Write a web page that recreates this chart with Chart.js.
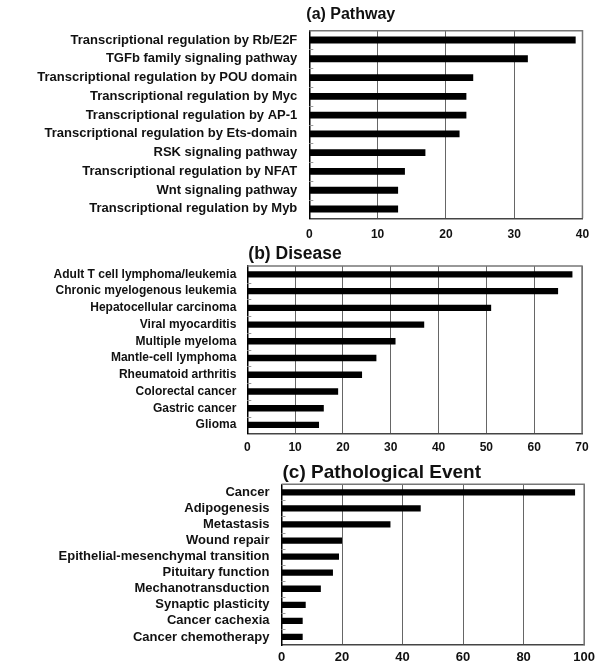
<!DOCTYPE html>
<html>
<head>
<meta charset="utf-8">
<script src="https://cdn.jsdelivr.net/npm/chart.js@4.4.1/dist/chart.umd.min.js"></script>
<style>
  html, body { margin: 0; padding: 0; background: #fff; }
  body { width: 600px; height: 666px; position: relative; overflow: hidden; }
  .box { position: absolute; left: 0; width: 600px; }
  #boxA { top: 0; height: 248px; }
  #boxB { top: 240px; height: 215px; }
  #boxC { top: 450px; height: 216px; }
</style>
</head>
<body>
<div class="box" id="boxA"><canvas id="chartA"></canvas></div>
<div class="box" id="boxB"><canvas id="chartB"></canvas></div>
<div class="box" id="boxC"><canvas id="chartC"></canvas></div>
<script>
// ---------- DATA ----------
const pathwayLabels = [
  "Transcriptional regulation by Rb/E2F",
  "TGFb family signaling pathway",
  "Transcriptional regulation by POU domain",
  "Transcriptional regulation by Myc",
  "Transcriptional regulation by AP-1",
  "Transcriptional regulation by Ets-domain",
  "RSK signaling pathway",
  "Transcriptional regulation by NFAT",
  "Wnt signaling pathway",
  "Transcriptional regulation by Myb"
];
const pathwayValues = [39, 32, 24, 23, 23, 22, 17, 14, 13, 13];
const pathwayAxis = [0, 10, 20, 30, 40];

const diseaseLabels = [
  "Adult T cell lymphoma/leukemia",
  "Chronic myelogenous leukemia",
  "Hepatocellular carcinoma",
  "Viral myocarditis",
  "Multiple myeloma",
  "Mantle-cell lymphoma",
  "Rheumatoid arthritis",
  "Colorectal cancer",
  "Gastric cancer",
  "Glioma"
];
const diseaseValues = [68, 65, 51, 37, 31, 27, 24, 19, 16, 15];
const diseaseAxis = [0, 10, 20, 30, 40, 50, 60, 70];

const eventLabels = [
  "Cancer",
  "Adipogenesis",
  "Metastasis",
  "Wound repair",
  "Epithelial-mesenchymal transition",
  "Pituitary function",
  "Mechanotransduction",
  "Synaptic plasticity",
  "Cancer cachexia",
  "Cancer chemotherapy"
];
const eventValues = [97, 46, 36, 20, 19, 17, 13, 8, 7, 7];
const eventAxis = [0, 20, 40, 60, 80, 100];

const titles = ["(a) Pathway", "(b) Disease", "(c) Pathological Event"];

// ---------- RENDERING ----------
const FONT = '"Liberation Sans", Arial, Helvetica, sans-serif';

const framePlugin = {
  id: 'frame',
  afterDraw(chart, args, opts) {
    const ctx = chart.ctx, a = chart.chartArea, y = chart.scales.y;
    ctx.save();
    ctx.strokeStyle = '#777';
    ctx.lineWidth = 1.5;
    ctx.beginPath();
    ctx.moveTo(a.left, a.top);
    ctx.lineTo(a.right, a.top);
    ctx.lineTo(a.right, a.bottom);
    ctx.stroke();
    ctx.strokeStyle = '#999';
    ctx.lineWidth = 1;
    for (let i = 0; i < y.ticks.length - 1; i++) {
      const p = Math.round((y.getPixelForTick(i) + y.getPixelForTick(i + 1)) / 2) + 0.5;
      ctx.beginPath();
      ctx.moveTo(a.left, p);
      ctx.lineTo(a.left + 4, p);
      ctx.stroke();
    }
    ctx.fillStyle = '#111';
    ctx.font = 'bold ' + opts.size + 'px ' + FONT;
    ctx.textBaseline = 'middle';
    ctx.textAlign = 'left';
    ctx.fillText(opts.text, a.left + opts.dx, opts.y);
    ctx.restore();
  }
};

function makeChart(id, labels, values, axis, g) {
  const canvas = document.getElementById(id);
  const H = canvas.parentNode.clientHeight;
  return new Chart(canvas, {
    type: 'bar',
    data: {
      labels: labels,
      datasets: [{
        data: values,
        backgroundColor: '#000',
        borderWidth: 0,
        categoryPercentage: 1.0,
        barPercentage: g.barPct
      }]
    },
    options: {
      indexAxis: 'y',
      responsive: true,
      maintainAspectRatio: false,
      animation: false,
      events: [],
      layout: { padding: { top: g.top, right: 600 - g.right, bottom: 0, left: 0 } },
      plugins: {
        legend: { display: false },
        tooltip: { enabled: false },
        title: { display: false },
        frame: { text: g.title, size: g.titleSize, y: g.titleY, dx: g.titleDx }
      },
      scales: {
        x: {
          type: 'linear',
          min: axis[0],
          max: axis[axis.length - 1],
          afterBuildTicks: (s) => { s.ticks = axis.map(v => ({ value: v })); },
          grid: { color: '#666', lineWidth: 1, drawTicks: false },
          border: { display: true, color: '#444', width: 1.5 },
          ticks: {
            color: '#111',
            padding: g.xPad,
            font: { family: FONT, size: g.xFont, weight: 'bold' },
            maxRotation: 0
          },
          afterFit: (s) => { s.height = H - g.bottom; }
        },
        y: {
          grid: { display: false, drawTicks: false },
          border: { display: true, color: '#000', width: 1.5 },
          ticks: {
            color: '#111',
            padding: g.yPad,
            font: { family: FONT, size: g.yFont, weight: 'bold' },
            autoSkip: false
          },
          afterFit: (s) => { s.width = g.left; }
        }
      }
    },
    plugins: [framePlugin]
  });
}

makeChart('chartA', pathwayLabels, pathwayValues, pathwayAxis, {
  top: 30.7, bottom: 218.3, left: 309.3, right: 582.5, barPct: 0.37,
  title: titles[0], titleSize: 16, titleY: 14.5, titleDx: -3,
  xPad: 9, xFont: 12, yPad: 12, yFont: 13
});
makeChart('chartB', diseaseLabels, diseaseValues, diseaseAxis, {
  top: 26, bottom: 193.3, left: 247.3, right: 582, barPct: 0.38,
  title: titles[1], titleSize: 17.5, titleY: 14, titleDx: 1,
  xPad: 7, xFont: 12, yPad: 11, yFont: 12
});
makeChart('chartC', eventLabels, eventValues, eventAxis, {
  top: 34.3, bottom: 195, left: 281.5, right: 584.5, barPct: 0.39,
  title: titles[2], titleSize: 19, titleY: 23, titleDx: 1,
  xPad: 5, xFont: 13, yPad: 12, yFont: 13
});
</script>
</body>
</html>
